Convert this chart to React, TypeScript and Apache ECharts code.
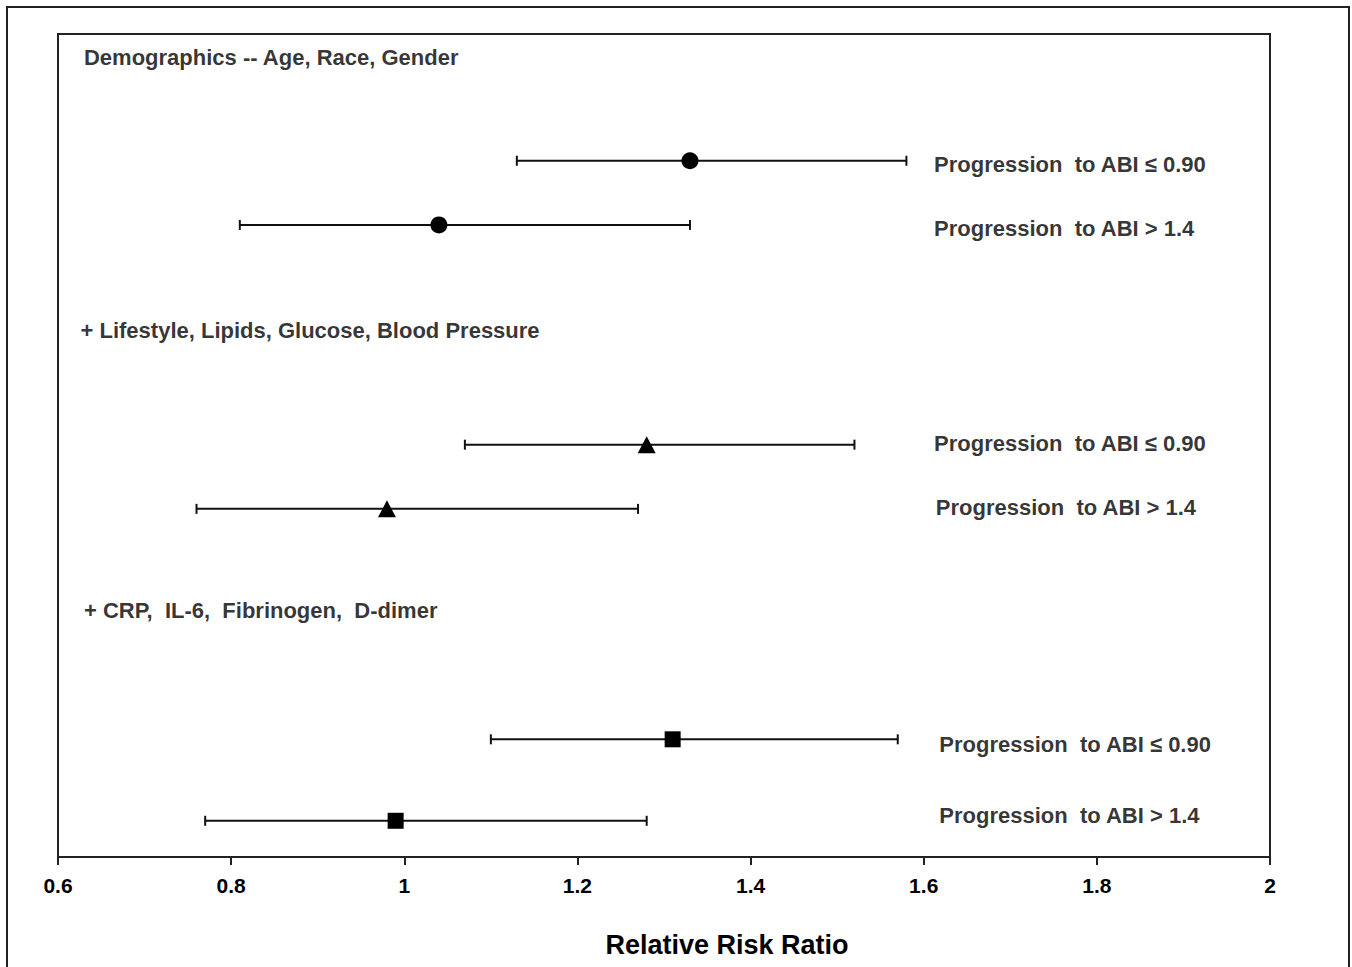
import React, { useEffect, useRef } from "react";
import * as echarts from "echarts";

// Relative risk estimates (point) and 95% CI, per row
const rowNames = [
  "Demographics: ABI ≤ 0.90",
  "Demographics: ABI > 1.4",
  "Lifestyle: ABI ≤ 0.90",
  "Lifestyle: ABI > 1.4",
  "Inflammation: ABI ≤ 0.90",
  "Inflammation: ABI > 1.4",
];
const estimates = [1.33, 1.04, 1.28, 0.98, 1.31, 0.99];
const lowerCI = [1.13, 0.81, 1.07, 0.76, 1.1, 0.77];
const upperCI = [1.58, 1.33, 1.52, 1.27, 1.57, 1.28];
// vertical row positions (0 = top, 10 = x axis)
const rowPos = [1.54, 2.32, 4.99, 5.77, 8.57, 9.56];
const rowLabelPos = [1.58, 2.36, 4.97, 5.75, 8.63, 9.5];
const rowLabels = [
  "Progression  to ABI ≤ 0.90",
  "Progression  to ABI > 1.4",
  "Progression  to ABI ≤ 0.90",
  "Progression  to ABI > 1.4",
  "Progression  to ABI ≤ 0.90",
  "Progression  to ABI > 1.4",
];
const rowLabelX = [1.612, 1.612, 1.612, 1.614, 1.618, 1.618];
const rowSymbols = ["circle", "circle", "triangle", "triangle", "rect", "rect"];
const groupHeaders = [
  "Demographics -- Age, Race, Gender",
  "+ Lifestyle, Lipids, Glucose, Blood Pressure",
  "+ CRP,  IL-6,  Fibrinogen,  D-dimer",
];
const headerPos = [0.28, 3.6, 7.0];
const headerX = [0.63, 0.626, 0.63];
const xTicks = { min: 0.6, max: 2, interval: 0.2 };

const FONT = "Arial, 'Liberation Sans', sans-serif";

export default function App() {
  const ref = useRef<HTMLDivElement>(null);
  useEffect(() => {
    document.body.style.margin = "0";
    if (!ref.current) return;
    const chart = echarts.init(ref.current, undefined, { renderer: "svg" });

    const symbolSizes: Record<string, any> = {
      circle: 17,
      triangle: [18, 17],
      rect: 16,
    };

    const labelStyle = {
      show: true,
      position: "right",
      distance: 0,
      formatter: (p: any) => p.name,
      fontSize: 22,
      fontWeight: "bold",
      color: "#000",
      fontFamily: FONT,
    };

    const option: any = {
      animation: false,
      backgroundColor: "#fff",
      textStyle: { fontFamily: FONT },
      grid: {
        left: 58,
        right: 82,
        top: 34,
        bottom: 110,
        show: true,
        borderColor: "#222",
        borderWidth: 2,
        backgroundColor: "transparent",
      },
      graphic: [
        {
          type: "rect",
          shape: { x: 7, y: 7, width: 1342, height: 990 },
          style: { fill: "none", stroke: "#222", lineWidth: 2 },
          silent: true,
        },
      ],
      xAxis: {
        type: "value",
        position: "bottom",
        min: xTicks.min,
        max: xTicks.max,
        interval: xTicks.interval,
        name: "Relative Risk Ratio",
        nameLocation: "middle",
        nameGap: 74,
        nameTextStyle: {
          fontSize: 27,
          fontWeight: "bold",
          color: "#000",
          fontFamily: FONT,
          padding: [0, 0, 0, 126],
        },
        axisLine: { show: true, onZero: false, lineStyle: { color: "#222", width: 2 } },
        axisTick: { show: true, inside: false, length: 8, lineStyle: { color: "#222", width: 2 } },
        axisLabel: {
          fontSize: 21,
          fontWeight: "bold",
          color: "#000",
          margin: 18,
          fontFamily: FONT,
          formatter: (v: number) => String(Math.round(v * 10) / 10),
        },
        splitLine: { show: false },
      },
      yAxis: {
        type: "value",
        min: 0,
        max: 10,
        inverse: true,
        show: false,
        axisLine: { onZero: false },
        splitLine: { show: false },
      },
      series: [
        {
          type: "custom",
          name: "CI",
          data: rowNames.map((_, i) => [lowerCI[i], upperCI[i], rowPos[i]]),
          renderItem: (params: any, api: any) => {
            const lo = api.coord([api.value(0), api.value(2)]);
            const hi = api.coord([api.value(1), api.value(2)]);
            const cap = 5;
            const style = { stroke: "#111", lineWidth: 2 };
            return {
              type: "group",
              children: [
                { type: "line", shape: { x1: lo[0], y1: lo[1], x2: hi[0], y2: hi[1] }, style },
                { type: "line", shape: { x1: lo[0], y1: lo[1] - cap, x2: lo[0], y2: lo[1] + cap }, style },
                { type: "line", shape: { x1: hi[0], y1: hi[1] - cap, x2: hi[0], y2: hi[1] + cap }, style },
              ],
            };
          },
          z: 2,
        },
        {
          type: "scatter",
          name: "Estimate",
          data: rowNames.map((n, i) => ({
            name: n,
            value: [estimates[i], rowPos[i]],
            symbol: rowSymbols[i],
            symbolSize: symbolSizes[rowSymbols[i]],
          })),
          itemStyle: { color: "#000", opacity: 1 },
          z: 3,
        },
        {
          type: "scatter",
          name: "Row labels",
          symbolSize: 0,
          silent: true,
          data: rowLabels.map((t, i) => ({ value: [rowLabelX[i], rowLabelPos[i]], name: t })),
          label: labelStyle,
        },
        {
          type: "scatter",
          name: "Headers",
          symbolSize: 0,
          silent: true,
          data: groupHeaders.map((t, i) => ({ value: [headerX[i], headerPos[i]], name: t })),
          label: labelStyle,
        },
      ],
    };
    chart.setOption(option);
    return () => chart.dispose();
  }, []);
  return <div ref={ref} style={{ width: 1352, height: 967 }} />;
}
